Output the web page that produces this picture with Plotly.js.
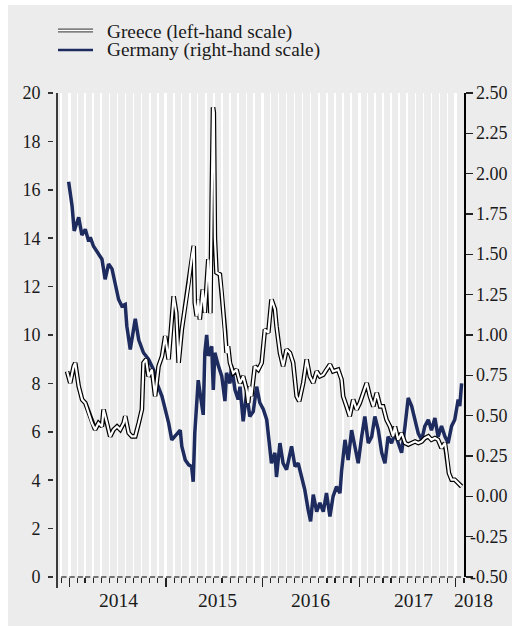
<!DOCTYPE html>
<html>
<head>
<meta charset="utf-8">
<script src="https://cdn.plot.ly/plotly-3.0.1.min.js"></script>
<style>html,body{margin:0;padding:0;background:#fff;}#chart{width:512px;height:626px;}</style>
</head>
<body>
<div id="chart"></div>
<script>
// ---------------- DATA ----------------
const seriesNames = ["Greece (left-hand scale)", "Germany (right-hand scale)"];
const yearLabels = ["2014", "2015", "2016", "2017", "2018"];

const germanyDates = [
"2013-12-29","2014-01-11","2014-01-19","2014-02-05","2014-02-17","2014-03-02","2014-03-15","2014-03-21",
"2014-04-02","2014-04-21","2014-05-04","2014-05-16","2014-05-29","2014-06-11","2014-06-23","2014-07-06",
"2014-07-18","2014-07-31","2014-08-06","2014-08-19","2014-09-07","2014-09-20","2014-10-08","2014-10-27",
"2014-11-15","2014-11-28","2014-12-17","2014-12-29","2015-01-11","2015-01-23","2015-02-11","2015-02-24",
"2015-03-02","2015-03-15","2015-03-28","2015-04-08","2015-04-14","2015-04-20","2015-05-03","2015-05-09",
"2015-05-22","2015-05-28","2015-06-04","2015-06-10","2015-06-23","2015-06-29","2015-07-05","2015-07-18",
"2015-07-31","2015-08-12","2015-08-18","2015-08-31","2015-09-06","2015-09-19","2015-10-01","2015-10-08",
"2015-10-20","2015-11-02","2015-11-14","2015-11-27","2015-12-10","2015-12-22","2016-01-04","2016-01-17",
"2016-01-29","2016-02-04","2016-02-17","2016-02-23","2016-03-07","2016-03-19","2016-04-01","2016-04-20",
"2016-05-03","2016-05-15","2016-05-28","2016-06-09","2016-06-22","2016-07-01","2016-07-11","2016-07-24",
"2016-08-05","2016-08-18","2016-08-30","2016-09-12","2016-09-24","2016-10-07","2016-10-20","2016-10-26",
"2016-11-08","2016-11-20","2016-12-03","2016-12-15","2016-12-28","2017-01-10","2017-01-22","2017-02-04",
"2017-02-17","2017-03-01","2017-03-14","2017-03-27","2017-04-08","2017-04-20","2017-05-03","2017-05-16",
"2017-05-28","2017-06-10","2017-06-23","2017-07-05","2017-07-18","2017-07-31","2017-08-12","2017-08-25",
"2017-09-06","2017-09-19","2017-10-01","2017-10-14","2017-10-26","2017-11-08","2017-11-21","2017-12-03",
"2017-12-16","2017-12-28","2018-01-10","2018-01-16","2018-01-23"];
const germanyYield = [
1.95,1.80,1.645,1.73,1.62,1.655,1.58,1.605,
1.55,1.50,1.47,1.345,1.44,1.41,1.31,1.22,
1.18,1.19,1.055,0.91,1.10,0.97,0.89,0.85,
0.785,0.70,0.62,0.54,0.455,0.35,0.39,0.41,
0.31,0.225,0.195,0.185,0.09,0.39,0.72,0.64,
0.505,0.89,1.00,0.87,0.93,0.66,0.89,0.81,
0.745,0.59,0.765,0.70,0.81,0.66,0.60,0.68,
0.465,0.64,0.495,0.525,0.68,0.58,0.54,0.475,
0.31,0.205,0.27,0.12,0.33,0.205,0.165,0.31,
0.185,0.205,0.12,0.04,-0.085,-0.155,0.01,-0.095,
-0.04,-0.095,0.02,-0.125,0.0,0.06,0.02,0.155,
0.35,0.225,0.41,0.31,0.205,0.37,0.495,0.33,
0.37,0.495,0.41,0.27,0.205,0.37,0.33,0.39,
0.33,0.27,0.435,0.61,0.56,0.475,0.39,0.35,
0.435,0.475,0.41,0.485,0.37,0.435,0.37,0.33,
0.435,0.475,0.60,0.56,0.70];

const greeceDates = [
"2013-12-23","2014-01-04","2014-01-17","2014-01-23","2014-02-05","2014-02-18","2014-03-02","2014-03-15",
"2014-03-27","2014-04-08","2014-04-21","2014-05-04","2014-05-10","2014-05-23","2014-06-04","2014-06-17",
"2014-06-30","2014-07-12","2014-07-25","2014-07-31","2014-08-13","2014-08-25","2014-09-07","2014-09-20",
"2014-10-02","2014-10-08","2014-10-18","2014-10-27","2014-11-09","2014-11-21","2014-12-04","2014-12-17",
"2014-12-29","2015-01-11","2015-01-23","2015-01-30","2015-02-09","2015-02-18","2015-03-02","2015-03-15",
"2015-03-28","2015-04-09","2015-04-16","2015-04-20","2015-04-27","2015-05-03","2015-05-09","2015-05-20",
"2015-05-28","2015-06-10","2015-06-18","2015-06-23","2015-06-28","2015-07-01","2015-07-05","2015-07-11",
"2015-07-24","2015-07-31","2015-08-06","2015-08-12","2015-08-18","2015-08-24","2015-08-31","2015-09-12",
"2015-09-25","2015-10-08","2015-10-20","2015-11-02","2015-11-08","2015-11-14","2015-11-20","2015-12-03",
"2015-12-16","2015-12-29","2016-01-10","2016-01-23","2016-02-04","2016-02-17","2016-02-23","2016-03-07",
"2016-03-19","2016-04-01","2016-04-14","2016-04-26","2016-05-09","2016-05-19","2016-06-03","2016-06-16",
"2016-06-28","2016-07-11","2016-07-24","2016-08-05","2016-08-18","2016-08-30","2016-09-12","2016-09-24",
"2016-10-13","2016-10-26","2016-11-01","2016-11-14","2016-11-26","2016-12-09","2016-12-22","2017-01-03",
"2017-01-16","2017-01-29","2017-02-10","2017-02-23","2017-03-08","2017-03-21","2017-04-01","2017-04-14",
"2017-04-27","2017-05-09","2017-05-16","2017-05-28","2017-06-10","2017-06-23","2017-07-05","2017-07-18",
"2017-07-31","2017-08-12","2017-08-25","2017-09-06","2017-09-19","2017-10-01","2017-10-14","2017-10-26",
"2017-11-08","2017-11-21","2017-11-27","2017-12-06","2017-12-16","2017-12-28","2018-01-10","2018-01-23"];
const greeceYield = [
8.5,8.02,8.7,8.85,7.88,7.33,7.19,6.78,
6.36,6.09,6.36,6.22,6.92,6.36,5.81,6.09,
6.22,6.09,6.36,6.64,5.95,5.81,5.81,6.36,
6.92,8.85,8.99,8.29,8.57,7.47,8.71,9.12,
9.95,8.99,10.92,11.6,10.92,8.85,10.23,11.19,
12.16,13.26,13.68,11.33,10.78,11.47,10.64,11.88,
10.92,13.13,10.9,15.6,19.41,19.2,14.0,12.58,
12.5,11.75,10.92,10.23,9.26,9.54,8.85,8.43,
8.57,8.02,8.29,7.74,7.19,7.88,7.47,8.71,
8.57,8.85,10.23,10.09,11.47,11.06,10.36,9.26,
8.71,9.4,9.26,8.85,7.47,7.26,8.02,8.99,
8.29,8.02,8.5,8.29,8.36,8.57,8.78,8.5,
8.57,8.16,7.47,7.05,6.64,7.33,6.92,7.19,
7.61,8.02,7.47,7.05,7.61,7.05,7.05,6.5,
6.22,5.81,6.22,5.67,5.95,5.54,5.47,5.54,
5.6,5.54,5.6,5.74,5.81,5.67,5.74,5.67,
5.33,5.54,5.12,4.29,4.02,4.02,3.88,3.74];

const leftTickVals = [0,2,4,6,8,10,12,14,16,18,20];
const rightTickVals = [-0.5,-0.25,0,0.25,0.5,0.75,1,1.25,1.5,1.75,2,2.25,2.5];
const rightTickText = ["-0.50","-0.25","0.00","0.25","0.50","0.75","1.00","1.25","1.50","1.75","2.00","2.25","2.50"];

// ---------------- STYLE / LAYOUT ----------------
const W = 512, H = 626;
const M = {l: 53, r: 48, t: 93, b: 49};
const PW = W - M.l - M.r, PH = H - M.t - M.b;
const px = x => (x - M.l) / PW;           // pixel -> paper x
const py = y => (H - M.b - y) / PH;       // pixel -> paper y
const xStart = px(57);

const navy = '#1d2b5f';
const bg = '#ececec';
const ink = '#1a1a1a';
const FONT = '"Liberation Serif", "Times New Roman", serif';

const traces = [
  {x: germanyDates, y: germanyYield, type: 'scatter', mode: 'lines', yaxis: 'y',
   line: {color: navy, width: 3.5}, name: seriesNames[1], showlegend: false, hoverinfo: 'skip'},
  {x: greeceDates, y: greeceYield, type: 'scatter', mode: 'lines', yaxis: 'y2',
   line: {color: '#000', width: 4.6}, name: seriesNames[0], showlegend: false, hoverinfo: 'skip'},
  {x: greeceDates, y: greeceYield, type: 'scatter', mode: 'lines', yaxis: 'y2',
   line: {color: '#fff', width: 2.2}, name: seriesNames[0], showlegend: false, hoverinfo: 'skip'}
];

const shapes = [
  {type: 'rect', xref: 'paper', yref: 'paper', x0: px(8), x1: px(512), y0: py(626), y1: py(5),
   fillcolor: bg, line: {width: 0}, layer: 'below'},
  {type: 'line', xref: 'paper', yref: 'paper', x0: xStart, x1: xStart, y0: py(588), y1: 1,
   line: {color: '#000', width: 1.5}},
  // legend samples
  {type: 'line', xref: 'paper', yref: 'paper', x0: px(58), x1: px(93), y0: py(30.5), y1: py(30.5),
   line: {color: '#555', width: 4}},
  {type: 'line', xref: 'paper', yref: 'paper', x0: px(58), x1: px(93), y0: py(30.5), y1: py(30.5),
   line: {color: '#fff', width: 1.6}},
  {type: 'line', xref: 'paper', yref: 'paper', x0: px(58), x1: px(93), y0: py(50), y1: py(50),
   line: {color: navy, width: 2.5}}
];
// small caps on top of the monthly ticks
for (let y = 2013; y <= 2018; y++) {
  for (let m = 1; m <= 12; m++) {
    const d = new Date(Date.UTC(y, m - 1, 1));
    const s = d.toISOString().slice(0, 10);
    if (s < '2013-12-01' || s > '2018-01-01') continue;
    const e = new Date(d.getTime() + 20 * 86400000).toISOString().slice(0, 10);
    shapes.push({type: 'line', xref: 'x', yref: 'paper', x0: s, x1: e, y0: 0, y1: 0,
      line: {color: '#222', width: 1.2}});
  }
}

const yearPx = [118, 217, 310, 413, 473];
const annotations = yearLabels.map((t, i) => ({
  text: t, xref: 'paper', yref: 'paper', x: px(yearPx[i]), y: py(600.5),
  xanchor: 'center', yanchor: 'middle', showarrow: false,
  font: {family: FONT, size: 19.5, color: ink}
}));
// right-hand scale labels, right-aligned like the reference
rightTickVals.forEach((v, i) => annotations.push({
  text: rightTickText[i], xref: 'paper', yref: 'y', x: px(510), y: v,
  xanchor: 'right', yanchor: 'middle', showarrow: false,
  font: {family: FONT, size: 18, color: ink}
}));
annotations.push(
  {text: seriesNames[0], xref: 'paper', yref: 'paper', x: px(105), y: py(31.5),
   xanchor: 'left', yanchor: 'middle', showarrow: false, font: {family: FONT, size: 19.3, color: ink}},
  {text: seriesNames[1], xref: 'paper', yref: 'paper', x: px(105), y: py(50.5),
   xanchor: 'left', yanchor: 'middle', showarrow: false, font: {family: FONT, size: 19.3, color: ink}}
);

const layout = {
  width: W, height: H, margin: M,
  paper_bgcolor: '#fff', plot_bgcolor: 'rgba(0,0,0,0)',
  font: {family: FONT, size: 18, color: ink},
  showlegend: false,
  xaxis: {
    type: 'date', range: ['2013-11-15', '2018-02-01'], domain: [xStart, 1],
    tick0: '2014-01-01', dtick: 'M12', ticks: 'outside', ticklen: 9, tickwidth: 1.2, tickcolor: '#222',
    showgrid: true, gridcolor: '#fff', gridwidth: 3, showticklabels: false,
    showline: false, zeroline: false, fixedrange: true,
    minor: {tick0: '2014-01-01', dtick: 'M1', ticks: 'outside', ticklen: 5, tickwidth: 1.2, tickcolor: '#222',
            showgrid: true, gridcolor: '#fff', gridwidth: 1.6}
  },
  yaxis: {
    range: [-0.5, 2.5], side: 'right', anchor: 'x',
    tickvals: rightTickVals, showticklabels: false,
    ticks: 'outside', ticklen: 7, tickwidth: 1.5, tickcolor: '#222',
    showline: true, linecolor: '#000', linewidth: 1.5,
    showgrid: false, zeroline: false, fixedrange: true
  },
  yaxis2: {
    range: [0, 20], overlaying: 'y', side: 'left', anchor: 'free', position: 0,
    tickvals: leftTickVals,
    ticks: 'outside', ticklen: 5, tickwidth: 1.5, tickcolor: '#333', ticklabelstandoff: 4,
    showline: false, showgrid: false, zeroline: false, fixedrange: true
  },
  shapes: shapes,
  annotations: annotations
};

Plotly.newPlot('chart', traces, layout, {staticPlot: true, displayModeBar: false});
</script>
</body>
</html>
